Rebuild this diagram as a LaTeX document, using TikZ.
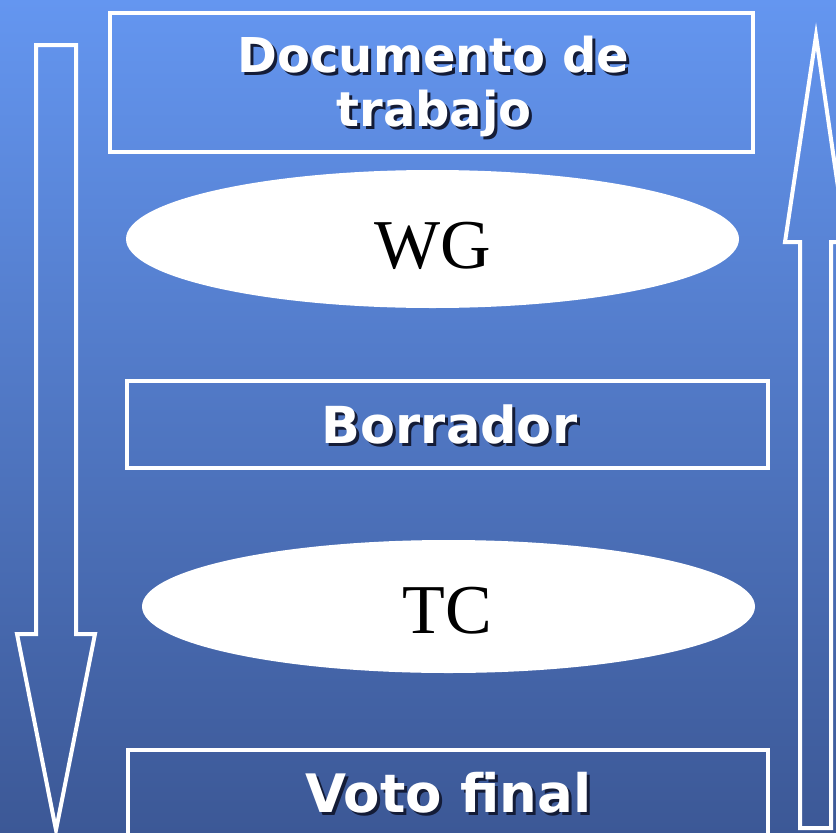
\documentclass[tikz,border=0pt]{standalone}
\usepackage{fontspec}
\setmainfont{DejaVu Sans}
\newfontfamily\serifw{Liberation Serif}
\definecolor{bgtop}{RGB}{100,150,240}
\definecolor{bgbot}{RGB}{60,88,150}
\definecolor{shadowc}{RGB}{20,28,55}
\newcommand\shtext[1]{\makebox[0pt][l]{\hspace{3pt}\raisebox{-3pt}{\textcolor{shadowc}{#1}}}#1}
\tikzset{
  box/.style={draw=white, line width=4pt, inner sep=0pt},
  oval/.style={ellipse, fill=white, inner sep=0pt},
  btext/.style={anchor=base, text=white, inner sep=0pt, font=\fontsize{#1}{54}\selectfont\bfseries},
  btext/.default=50,
  stext/.style={anchor=base, text=black, inner sep=0pt, font=\fontsize{70}{80}\selectfont\serifw},
  bigarrow/.style={draw=white, line width=4pt}
}
\usetikzlibrary{shapes.geometric}
\begin{document}
\begin{tikzpicture}[x=1pt,y=-1pt]
\useasboundingbox (0,0) rectangle (836,833);
\clip (0,0) rectangle (836,833);
\shade[top color=bgtop, bottom color=bgbot] (0,0) rectangle (836,833);
% arrows
\draw[bigarrow] (36,45) -- (76,45) -- (76,634) -- (95,634) -- (56,830) -- (17,634) -- (36,634) -- cycle;
\draw[bigarrow] (800,828) -- (831,828) -- (831,242) -- (846,242) -- (816,36) -- (785,242) -- (800,242) -- cycle;
% boxes
\node[box, minimum width=643pt, minimum height=139pt] (doc) at (431.5,82.5) {};
\node[btext=48] (doc1) at (433.5,72) {\shtext{Documento de}};
\node[btext=48] (doc2) at (434,126) {\shtext{trabajo}};
\node[oval, minimum width=613pt, minimum height=138pt] (wg) at (432.5,239) {};
\node[stext] (wgt) at (432.5,268) {WG};
\node[box, minimum width=641pt, minimum height=87pt] (bor) at (447.5,424.5) {};
\node[btext=51] (bort) at (449.5,443) {\shtext{Borrador}};
\node[oval, minimum width=613pt, minimum height=133pt] (tc) at (448.5,606.5) {};
\node[stext] (tct) at (447.5,633) {TC};
\node[box, minimum width=640pt, minimum height=140pt] (voto) at (448,820) {};
\node[btext=53] (votot) at (448.5,812) {\shtext{Voto final}};
\end{tikzpicture}
\end{document}
